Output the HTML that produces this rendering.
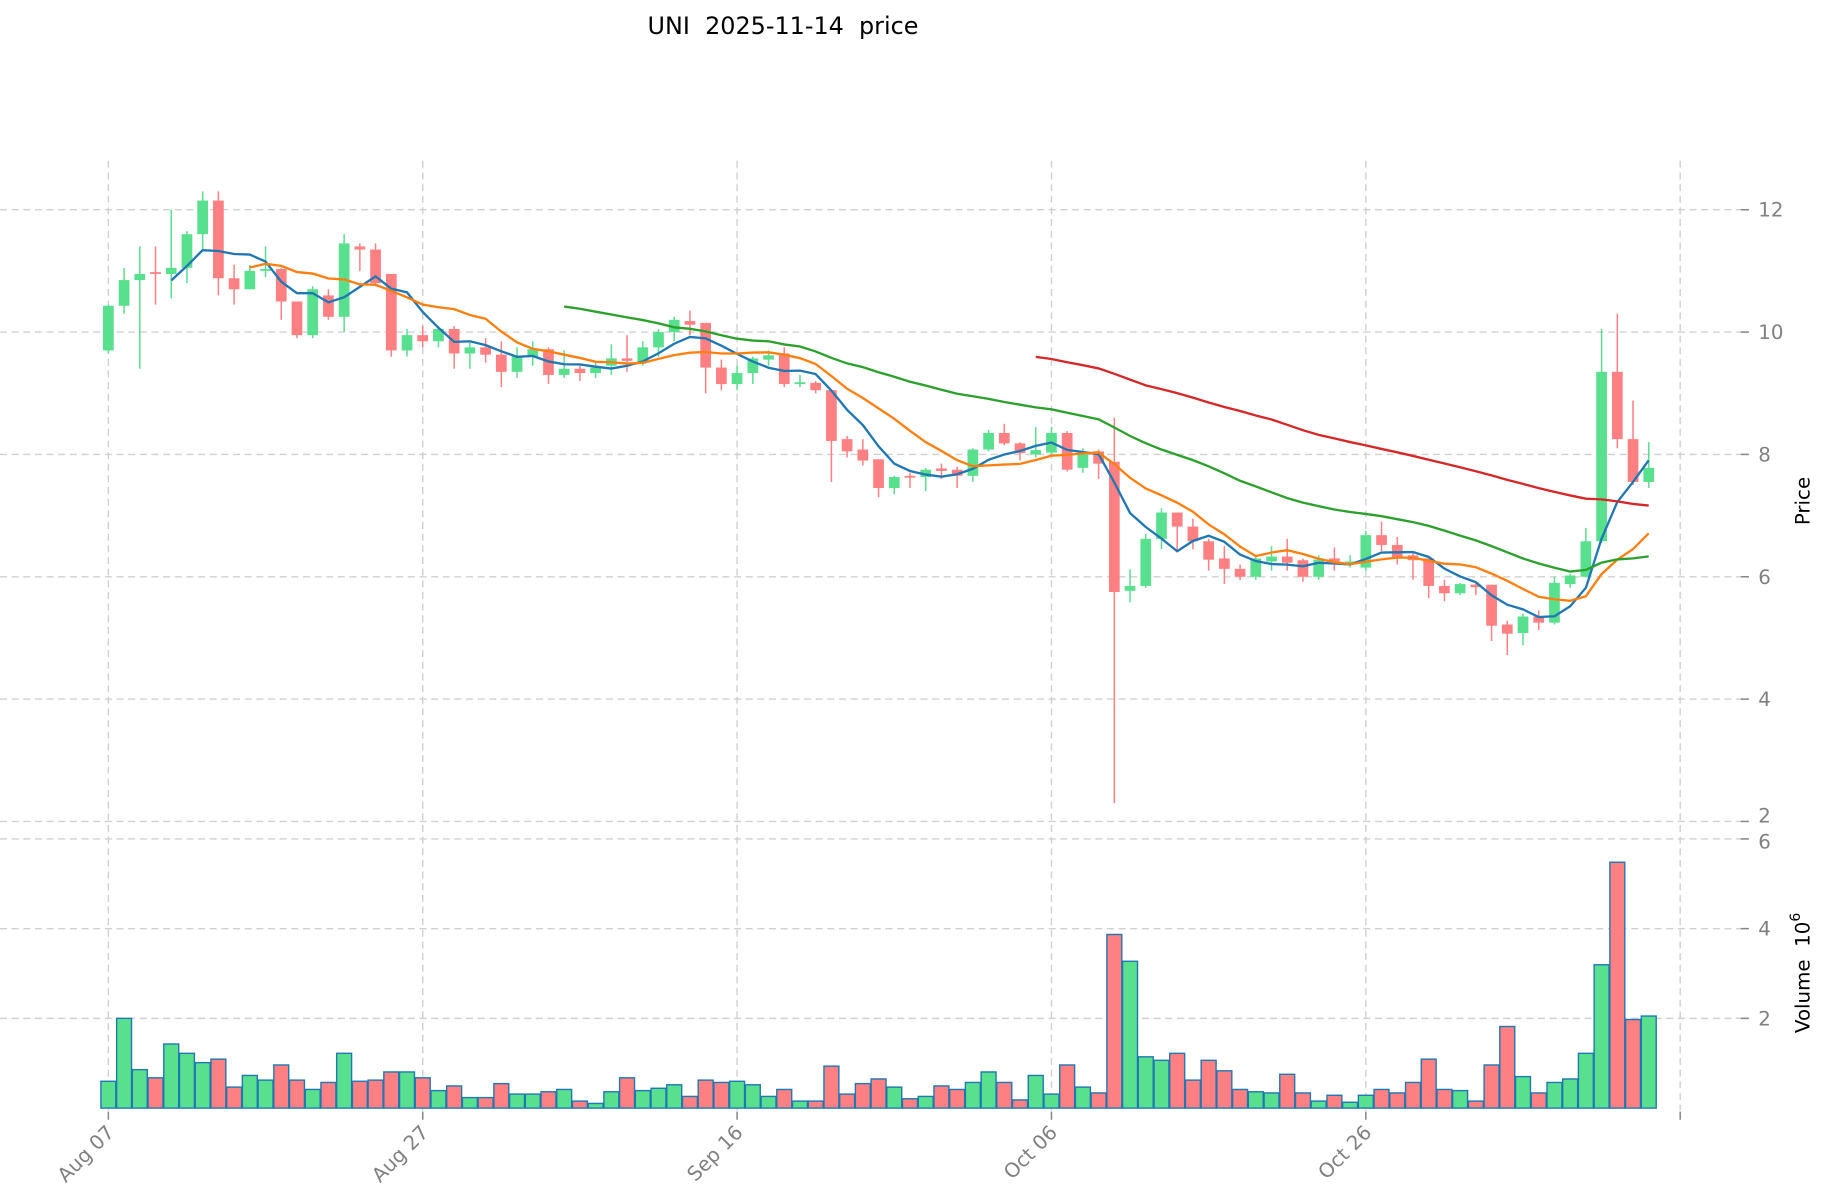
<!DOCTYPE html>
<html><head><meta charset="utf-8">
<style>html,body{margin:0;padding:0;background:#fff;}svg{display:block;}</style>
</head><body>
<svg id="c" width="1827" height="1202" viewBox="0 0 1568 1031.6" preserveAspectRatio="none" xmlns="http://www.w3.org/2000/svg" font-family="DejaVu Sans, Liberation Sans, sans-serif">
<rect width="1568" height="1031.6" fill="#fff"/>
<text x="672" y="29" font-size="20.5" text-anchor="middle" fill="#000" xml:space="preserve">UNI  2025-11-14  price</text>
<g id="grid"></g>
<g id="vol"></g>
<g id="cand"></g>
<g id="ma"></g>
<g id="axes"></g>
<text transform="translate(1553,430) rotate(-90)" font-size="17" text-anchor="middle" fill="#000">Price</text>
<text transform="translate(1553,835) rotate(-90)" font-size="17" text-anchor="middle" fill="#000" xml:space="preserve">Volume  10<tspan dy="-8" font-size="12">6</tspan></text>
</svg>
<script>
const D=[[9.7,10.45,9.65,10.43],[10.43,11.05,10.3,10.85],[10.85,11.4,9.4,10.95],[10.98,11.4,10.45,10.95],[10.95,12.0,10.55,11.05],[11.05,11.65,10.8,11.6],[11.6,12.3,11.35,12.15],[12.15,12.3,10.6,10.88],[10.88,11.1,10.45,10.7],[10.7,11.1,10.7,11.0],
[11.0,11.4,10.9,11.03],[11.03,11.05,10.2,10.5],[10.5,10.5,9.9,9.95],[9.95,10.75,9.9,10.7],[10.6,10.7,10.2,10.25],[10.25,11.6,10.0,11.45],[11.4,11.45,11.0,11.35],[11.35,11.45,10.75,10.8],[10.95,10.95,9.6,9.7],[9.7,10.05,9.6,9.95],
[9.95,10.1,9.75,9.85],[9.85,10.1,9.75,10.05],[10.05,10.1,9.4,9.65],[9.65,9.85,9.4,9.75],[9.75,9.9,9.5,9.63],[9.63,9.85,9.1,9.35],[9.35,9.75,9.25,9.6],[9.6,9.85,9.45,9.72],[9.72,9.75,9.15,9.3],[9.3,9.7,9.25,9.4],
[9.4,9.45,9.2,9.33],[9.33,9.5,9.25,9.42],[9.45,9.8,9.3,9.57],[9.57,9.95,9.35,9.53],[9.5,9.85,9.45,9.75],[9.75,10.05,9.6,10.0],[10.0,10.25,9.85,10.2],[10.18,10.35,9.95,10.12],[10.15,10.15,9.0,9.42],[9.42,9.55,9.05,9.15],
[9.15,9.45,9.05,9.33],[9.33,9.6,9.15,9.57],[9.55,9.7,9.45,9.62],[9.65,9.75,9.1,9.15],[9.15,9.3,9.1,9.18],[9.17,9.2,9.0,9.05],[9.05,9.05,7.55,8.22],[8.25,8.3,7.95,8.05],[8.08,8.25,7.82,7.9],[7.92,7.92,7.3,7.45],
[7.45,7.65,7.35,7.63],[7.65,7.7,7.45,7.62],[7.63,7.78,7.4,7.75],[7.77,7.85,7.6,7.73],[7.75,7.8,7.45,7.65],[7.65,8.1,7.55,8.08],[8.08,8.4,8.05,8.35],[8.35,8.5,8.15,8.18],[8.18,8.2,7.9,8.02],[8.0,8.45,7.95,8.07],
[8.03,8.45,8.0,8.35],[8.35,8.38,7.72,7.75],[7.78,8.1,7.7,8.0],[8.05,8.08,7.6,7.85],[7.88,8.6,2.3,5.75],[5.77,6.12,5.58,5.85],[5.85,6.7,5.82,6.62],[6.62,7.12,6.45,7.05],[7.05,7.05,6.4,6.82],[6.82,6.95,6.45,6.58],
[6.58,6.62,6.1,6.28],[6.3,6.5,5.88,6.13],[6.13,6.2,5.95,6.0],[6.0,6.35,5.95,6.3],[6.25,6.5,6.1,6.33],[6.33,6.62,6.1,6.23],[6.27,6.3,5.92,6.0],[6.0,6.35,5.95,6.28],[6.3,6.48,6.1,6.25],[6.22,6.35,6.15,6.25],
[6.15,6.75,6.1,6.68],[6.68,6.9,6.42,6.52],[6.52,6.65,6.2,6.3],[6.35,6.4,5.95,6.27],[6.3,6.3,5.65,5.85],[5.85,5.95,5.6,5.73],[5.73,5.9,5.7,5.88],[5.87,5.9,5.7,5.83],[5.87,5.87,4.95,5.2],[5.22,5.28,4.72,5.07],
[5.08,5.4,4.88,5.35],[5.35,5.45,5.13,5.25],[5.25,6.0,5.22,5.9],[5.88,6.05,5.82,6.02],[6.0,6.8,6.0,6.58],[6.58,10.05,6.55,9.35],[9.35,10.3,8.1,8.25],[8.25,8.88,7.5,7.55],[7.55,8.2,7.45,7.78]];
const V=[928,874,918,925,896,904,912,909,933,923,927,914,927,935,929,904,928,927,920,920,925,936,932,942,942,930,939,939,937,935,945,947,937,925,936,934,931,941,927,929,928,931,941,935,945,945,915,939,930,926,933,943,941,932,935,929,920,929,944,923,939,914,933,938,802,825,907,910,904,927,910,919,935,937,938,922,938,945,940,946,940,935,938,929,909,935,936,945,914,881,924,938,929,926,904,828,740,875,872];
const NS="http://www.w3.org/2000/svg";
function el(p,t,a){const e=document.createElementNS(NS,t);for(const k in a){if(k!=='text')e.setAttribute(k,a[k]);}if(a.text!==undefined)e.textContent=a.text;document.getElementById(p).appendChild(e);return e;}
const X=i=>93+13.49*i, Y=p=>180+(12-p)*52.5;
const G='#d0d0d0',GR='#58e08e',RD='#ff8082';
[12,10,8,6,4,2].forEach(p=>{el('grid','line',{x1:0,x2:1500,y1:Y(p),y2:Y(p),stroke:G,'stroke-dasharray':'6,4','stroke-width':1.2});
 el('axes','line',{x1:1494,x2:1501,y1:Y(p),y2:Y(p),stroke:'#888','stroke-width':1.3});
 el('axes','text',{x:1509,y:Y(p)+(p==2?1:6),'font-size':17,fill:'#808080',text:String(p)});});
const VY=v=>951-v*38.5;
[6,4,2].forEach(v=>{el('grid','line',{x1:0,x2:1500,y1:VY(v),y2:VY(v),stroke:G,'stroke-dasharray':'6,4','stroke-width':1.2});
 el('axes','line',{x1:1494,x2:1501,y1:VY(v),y2:VY(v),stroke:'#888','stroke-width':1.3});
 el('axes','text',{x:1509,y:VY(v)+(v==6?8:6),'font-size':17,fill:'#808080',text:String(v)});});
const lab=['Aug 07','Aug 27','Sep 16','Oct 06','Oct 26',''];
for(let k=0;k<6;k++){const x=X(20*k);
 el('grid','line',{x1:x,x2:x,y1:138,y2:953,stroke:G,'stroke-dasharray':'6,4','stroke-width':1.2});
 el('axes','line',{x1:x,x2:x,y1:954,y2:961,stroke:'#888','stroke-width':1.3});
 if(lab[k])el('axes','text',{x:0,y:0,'font-size':17,fill:'#808080','text-anchor':'end',transform:`translate(${x+6},${973}) rotate(-45)`,text:lab[k]});}
V.forEach((t,i)=>{const d=D[i];el('vol','rect',{x:X(i)-6.4,y:t,width:12.8,height:951-t,fill:d[3]>=d[0]?GR:RD,stroke:'#1f77b4','stroke-width':1.2});});
D.forEach((d,i)=>{const[o,h,l,c]=d,col=c>=o?GR:RD,x=X(i);
 el('cand','line',{x1:x,x2:x,y1:Y(h),y2:Y(l),stroke:col,'stroke-width':1.3});
 const t=Y(Math.max(o,c)),b=Y(Math.min(o,c));
 el('cand','rect',{x:x-4.6,y:t,width:9.2,height:Math.max(b-t,1.5),fill:col});});
const C=D.map(d=>d[3]);
[[5,'#1f77b4'],[10,'#ff7f0e'],[30,'#2ca02c'],[60,'#d62728']].forEach(([n,col])=>{let pts=[];
 for(let i=n-1;i<C.length;i++){let s=0;for(let j=i-n+1;j<=i;j++)s+=C[j];pts.push(X(i).toFixed(1)+','+Y(s/n).toFixed(1));}
 el('ma','polyline',{points:pts.join(' '),fill:'none',stroke:col,'stroke-width':2});});
</script>
</body></html>
